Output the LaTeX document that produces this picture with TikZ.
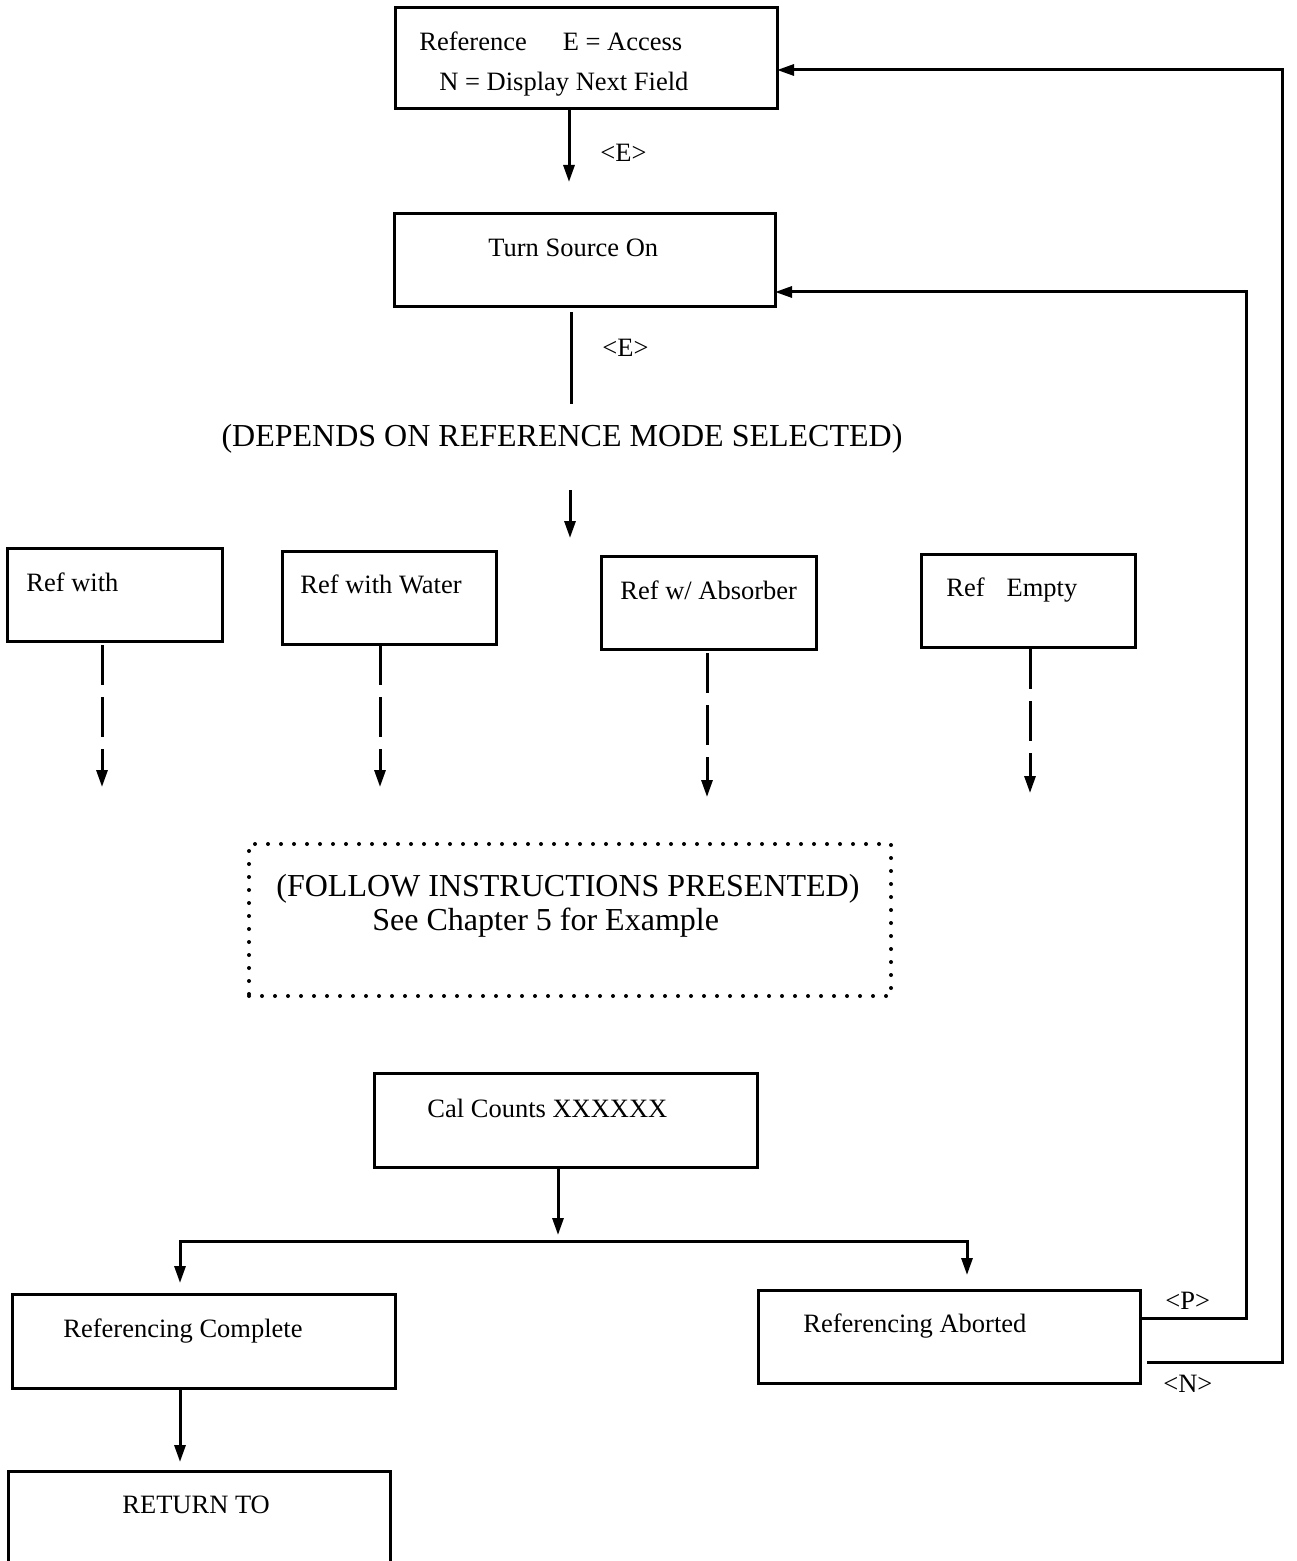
\documentclass[tikz,border=0pt]{standalone}
\usepackage{fontspec}
\setmainfont{Liberation Serif}
\usetikzlibrary{arrows.meta}
\begin{document}
\begin{tikzpicture}[x=0.5pt,y=-0.5pt,
  wire/.style={line width=1.5pt},
  arr/.style={wire,-{Triangle[length=8.5pt,width=5.5pt]}},
  biarr/.style={wire,{Triangle[length=8.5pt,width=5.5pt]}-{Triangle[length=8.5pt,width=5.5pt]}},
  dasharr/.style={arr,dash pattern=on 20pt off 6pt},
  box/.style={draw,line width=1.5pt,inner sep=0pt,outer sep=0pt,anchor=north west},
  dotbox/.style={box,line cap=round,line width=2pt,dash pattern=on 0pt off 6.5pt},
  txt/.style={inner sep=0pt,anchor=base west,font=\fontsize{13.25}{16}\selectfont},
  big/.style={inner sep=0pt,anchor=base west,font=\fontsize{16}{19}\selectfont}
]
\path[use as bounding box] (0,0) rectangle (1296,1561);
\clip (0,0) rectangle (1296,1561);
\fill[white] (0,0) rectangle (1296,1561);

% boxes
\node[box,minimum width=191pt,minimum height=50.5pt] (ref) at (395,8) {};
\node[box,minimum width=190.5pt,minimum height=46.5pt] (src) at (394,214) {};
\node[box,minimum width=107.5pt,minimum height=46.5pt] (rA) at (7,548) {};
\node[box,minimum width=107pt,minimum height=46.5pt] (rB) at (282,551) {};
\node[box,minimum width=107.5pt,minimum height=46.5pt] (rC) at (601,556) {};
\node[box,minimum width=107pt,minimum height=46.5pt] (rD) at (921,554) {};
\node[dotbox,minimum width=321pt,minimum height=76pt] (follow) at (249,844) {};
\node[box,minimum width=191.5pt,minimum height=47pt] (cal) at (374,1073) {};
\node[box,minimum width=191.5pt,minimum height=47pt] (done) at (12,1294) {};
\node[box,minimum width=191pt,minimum height=64.5pt] (ret) at (8,1471) {};
\node[box,minimum width=191pt,minimum height=46.5pt] (abort) at (758,1290) {};

% texts
\node[txt] (tRef) at (419,51) {Reference\hspace{18pt}E = Access};
\node[txt] (tRef2) at (439,91) {N = Display Next Field};
\node[txt] (lblE1) at (600,162) {<E>};
\node[txt] (tSrc) at (488,257) {Turn Source On};
\node[txt] (lblE2) at (602,357) {<E>};
\node[big,anchor=base] (mode) at (562,446) {(DEPENDS ON REFERENCE MODE SELECTED)};
\node[txt] (tA) at (26,591) {Ref with};
\node[txt] (tB) at (300,593) {Ref with Water};
\node[txt] (tC) at (620,599) {Ref w/ Absorber};
\node[txt] (tD) at (946,596) {Ref\hspace{11pt}Empty};
\node[big] (tF1) at (276,896) {(FOLLOW INSTRUCTIONS PRESENTED)};
\node[big] (tF2) at (372,930) {See Chapter 5 for Example};
\node[txt] (tCal) at (427,1117) {Cal Counts XXXXXX};
\node[txt] (tDone) at (63,1337) {Referencing Complete};
\node[txt] (tRet) at (122,1513) {RETURN TO};
\node[txt] (tAb) at (803,1332) {Referencing Aborted};
\node[txt] (lblP) at (1165,1309) {<P>};
\node[txt] (lblN) at (1163,1392) {<N>};

% main flow
\coordinate (e1) at (569,182);
\draw[arr] (ref.south -| e1) -- (e1);
\coordinate (e2) at (571,404);
\draw[wire] ([yshift=-2.5pt]src.south -| e2) -- (e2);
\coordinate (m1) at (570,490);
\coordinate (m2) at (570,538);
\draw[arr] (m1) -- (m2);

% dashed exits of the four modes
\coordinate (dA) at (102,787);
\coordinate (dB) at (380,787);
\coordinate (dC) at (707,797);
\coordinate (dD) at (1030,793);
\draw[dasharr] ([yshift=-2pt]rA.south -| dA) -- (dA);
\draw[dasharr] ([yshift=-0.5pt]rB.south -| dB) -- (dB);
\draw[dasharr] ([yshift=-2pt]rC.south -| dC) -- (dC);
\draw[dasharr] ([yshift=-1pt]rD.south -| dD) -- (dD);

% result split
\coordinate (c1) at (558,1235);
\draw[arr] (cal.south -| c1) -- (c1);
\coordinate (hl) at (180,1241);
\coordinate (hr) at (967,1241);
\coordinate (hlT) at (180,1283);
\coordinate (hrT) at (967,1275);
\draw[biarr] (hlT) -- (hl) -- (hr) -- (hrT);
\coordinate (rT) at (180,1462);
\draw[arr] (done.south -| rT) -- (rT);

% loops back from aborted
\coordinate (pC) at (1246,1318);
\coordinate (pT) at (1246,292);
\draw[arr] (abort.east |- pC) -- (pC) -- (pT) -- (src.east |- pT);
\coordinate (nC) at (1282,1362);
\coordinate (nT) at (1282,70);
\draw[arr] ([xshift=3.5pt]abort.east |- nC) -- (nC) -- (nT) -- (ref.east |- nT);
\end{tikzpicture}
\end{document}
